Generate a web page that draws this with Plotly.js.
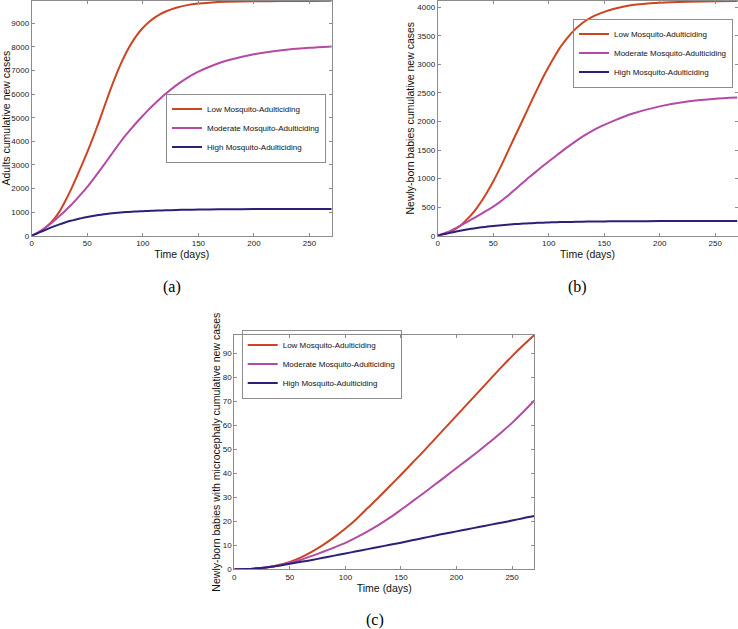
<!DOCTYPE html>
<html>
<head>
<meta charset="utf-8">
<script src="https://cdn.plot.ly/plotly-3.0.1.min.js"></script>
<style>html,body{margin:0;padding:0;background:#fff;}#chart{width:738px;height:629px;}</style>
</head>
<body>
<div id="chart"></div>
<script>
// ---- data ----
var seriesNames = ["Low Mosquito-Adulticiding", "Moderate Mosquito-Adulticiding", "High Mosquito-Adulticiding"];
var days = [0,5,10,15,20,25,30,35,40,45,50,55,60,65,70,75,80,85,90,95,100,105,110,115,120,130,140,150,160,175,200,225,250,270];
// (a) adults cumulative new cases
var lowA  = [0,110,260,450,700,1020,1450,1920,2440,2980,3540,4130,4760,5420,6080,6700,7260,7750,8170,8520,8800,9030,9220,9370,9490,9660,9770,9835,9875,9910,9932,9942,9947,9950];
var modA  = [0,120,260,430,620,830,1050,1280,1530,1790,2070,2370,2680,3000,3330,3660,3980,4280,4560,4830,5080,5330,5560,5780,5990,6370,6690,6950,7160,7410,7690,7860,7960,8020];
var highA = [0,100,200,300,395,480,560,630,690,745,795,838,875,908,937,962,983,1000,1015,1028,1040,1050,1060,1068,1075,1088,1100,1108,1115,1122,1128,1132,1134,1135];
// (b) newly-born babies cumulative new cases
var lowB  = [0,25,60,105,170,260,360,480,620,780,950,1140,1340,1550,1760,1960,2170,2380,2580,2780,2960,3130,3290,3420,3540,3720,3840,3920,3980,4040,4080,4098,4106,4110];
var modB  = [0,35,70,120,170,225,280,335,390,450,510,575,650,730,815,900,985,1065,1145,1225,1300,1375,1450,1525,1595,1730,1845,1940,2025,2135,2265,2350,2400,2420];
var highB = [0,25,45,66,85,103,120,135,148,160,170,180,188,196,203,209,215,220,225,229,232,235,238,240,242,245,248,250,252,254,256,257,258,258];
// (c) newly-born babies with microcephaly cumulative new cases
var daysC = [0,10,20,30,40,50,60,70,80,90,100,110,120,130,140,150,160,170,180,190,200,210,220,230,240,250,260,270];
var lowC  = [0,0.1,0.4,0.9,1.8,3.1,5,7.4,10.2,13.4,17,21,25.5,30,34.7,39.4,44.2,49,54,59,64,69,74,79,84,88.8,93.3,97.6];
var modC  = [0,0.1,0.4,0.9,1.6,2.7,4,5.6,7.3,9.1,11,13.3,15.8,18.5,21.5,24.8,28.2,31.6,35.1,38.6,42.2,45.7,49.3,53.0,56.9,61.0,65.5,70.3];
var highC = [0,0.1,0.4,0.9,1.5,2.3,3.1,3.9,4.8,5.7,6.6,7.5,8.4,9.3,10.2,11.1,12.1,13,14,14.9,15.8,16.7,17.6,18.5,19.4,20.3,21.3,22.2];
var xTicks = [0,50,100,150,200,250];

// ---- styles ----
var colors = ["#cc4422", "#b44aa6", "#2b2078"];
var W = 738, H = 629;
function px(x){ return x / W; }
function py(y){ return 1 - y / H; }

var traces = [];
function addPanel(x, ys, xa, ya, leg){
  for (var i = 0; i < 3; i++) {
    traces.push({
      x: x, y: ys[i], type: "scatter", mode: "lines",
      name: seriesNames[i], xaxis: xa, yaxis: ya, legend: leg,
      line: {color: colors[i], width: 2, shape: "spline", smoothing: 0.7},
      hoverinfo: "skip"
    });
  }
}
addPanel(days, [lowA, modA, highA], "x", "y", "legend");
addPanel(days, [lowB, modB, highB], "x2", "y2", "legend2");
addPanel(daysC, [lowC, modC, highC], "x3", "y3", "legend3");

var axCol = "#8c8c8c";
var tickFont = {family: "Liberation Sans, Arial, sans-serif", size: 8, color: "#222"};
var titleFont = {family: "Liberation Sans, Arial, sans-serif", size: 10.5, color: "#111"};
function xAxis(dom, anchor){
  return {domain: dom, anchor: anchor, range: [0, 270], tickvals: xTicks,
    showline: true, linecolor: axCol, linewidth: 1, mirror: "ticks",
    ticks: "inside", ticklen: 3, tickcolor: axCol, showgrid: false, zeroline: false,
    tickfont: tickFont, title: {text: "Time (days)", font: titleFont, standoff: 0}};
}
function yAxis(dom, anchor, rng, dt, title){
  return {domain: dom, anchor: anchor, range: rng, dtick: dt, tick0: 0, tickformat: "d",
    showline: true, linecolor: axCol, linewidth: 1, mirror: "ticks",
    ticks: "inside", ticklen: 3, tickcolor: axCol, showgrid: false, zeroline: false,
    tickfont: tickFont, title: {text: title, font: titleFont, standoff: 0}};
}
function legendAt(x, y, xanchor){
  return {x: x, y: y, xanchor: xanchor, yanchor: "middle", xref: "paper", yref: "paper",
    bgcolor: "rgba(255,255,255,0)", bordercolor: axCol, borderwidth: 1,
    font: {family: "Liberation Sans, Arial, sans-serif", size: 8, color: "#111"},
    itemwidth: 30, tracegroupgap: 0};
}
var topDom = [py(235.7), 0.999];
var capFont = {family: "Liberation Serif, DejaVu Serif, serif", size: 16, color: "#000"};
var layout = {
  width: W, height: H, margin: {l: 0, r: 0, t: 0, b: 0},
  paper_bgcolor: "#ffffff", plot_bgcolor: "#ffffff",
  showlegend: true,
  xaxis: xAxis([px(31.7), px(331.7)], "y"),
  yaxis: yAxis(topDom, "x", [0, 9960], 1000, "Adults cumulative new cases"),
  xaxis2: xAxis([px(437.7), px(737.5)], "y2"),
  yaxis2: yAxis(topDom, "x2", [0, 4117], 500, "Newly-born babies cumulative new cases"),
  xaxis3: xAxis([px(234.3), px(534.3)], "y3"),
  yaxis3: yAxis([py(569.3), py(335)], "x3", [0, 97.6], 10, "Newly-born babies with microcephaly cumulative new cases"),
  legend: legendAt(px(326), py(128), "right"),
  legend2: legendAt(px(733), py(53), "right"),
  legend3: legendAt(px(241.7), py(364), "left"),
  annotations: [
    {text: "(a)", x: px(172), y: py(287), xref: "paper", yref: "paper", showarrow: false,
     xanchor: "center", yanchor: "middle", font: capFont},
    {text: "(b)", x: px(577), y: py(287), xref: "paper", yref: "paper", showarrow: false,
     xanchor: "center", yanchor: "middle", font: capFont},
    {text: "(c)", x: px(375), y: py(620), xref: "paper", yref: "paper", showarrow: false,
     xanchor: "center", yanchor: "middle", font: capFont}
  ]
};
Plotly.newPlot("chart", traces, layout, {displayModeBar: false, staticPlot: true});
</script>
</body>
</html>
